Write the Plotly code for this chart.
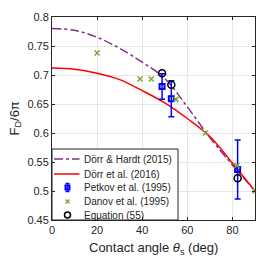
import plotly.graph_objects as go

# ---- data ----
angles = [0, 10, 20, 30, 40, 50, 60, 70, 80, 90]
dorr_hardt = [0.780, 0.777, 0.765, 0.746, 0.722, 0.694, 0.645, 0.592, 0.545, 0.500]
dorr_2016 = [0.712, 0.710, 0.703, 0.692, 0.673, 0.652, 0.625, 0.594, 0.548, 0.500]

petkov_x = [48.8, 52.9, 82.3]
petkov_y = [0.680, 0.659, 0.537]
petkov_err = [0.022, 0.031, 0.051]

danov_x = [20, 39, 44, 55, 68, 82, 90]
danov_y = [0.738, 0.693, 0.693, 0.658, 0.600, 0.544, 0.500]

eq_x = [48.8, 52.9, 82.3]
eq_y = [0.703, 0.683, 0.522]

x_ticks = [0, 20, 40, 60, 80]
y_ticks = [0.45, 0.5, 0.55, 0.6, 0.65, 0.7, 0.75, 0.8]
y_ticktext = ["0.45", "0.5", "0.55", "0.6", "0.65", "0.7", "0.75", "0.8"]

legend_names = ["Dörr & Hardt (2015)", "Dörr et al. (2016)", "Petkov et al. (1995)",
                "Danov et al. (1995)", "Equation (55)"]

PURPLE, RED, BLUE, GREEN, BLACK = "#7E2F8E", "#FF0000", "#0000FF", "#77AC30", "#000000"
TXT = "#262626"
FONT = "Liberation Sans"

fig = go.Figure()
fig.add_trace(go.Scatter(x=angles, y=dorr_hardt, mode="lines", showlegend=False,
                         line=dict(color=PURPLE, dash="dashdot", width=1.5, shape="spline")))
fig.add_trace(go.Scatter(x=angles, y=dorr_2016, mode="lines", showlegend=False,
                         line=dict(color=RED, width=1.5, shape="spline")))
fig.add_trace(go.Scatter(x=petkov_x, y=petkov_y, mode="markers", showlegend=False,
                         marker=dict(symbol="square-open", color=BLUE, size=5, line=dict(width=2)),
                         error_y=dict(type="data", array=petkov_err, color=BLUE, thickness=1.5, width=3)))
fig.add_trace(go.Scatter(x=danov_x, y=danov_y, mode="markers", showlegend=False,
                         marker=dict(symbol="x-thin-open", color=GREEN, size=5, line=dict(width=1.5, color=GREEN))))
fig.add_trace(go.Scatter(x=eq_x, y=eq_y, mode="markers", showlegend=False,
                         marker=dict(symbol="circle-open", color=BLACK, size=7, line=dict(width=1.5))))

# ---- manual legend (in plot-pixel units on hidden overlay axes) ----
PW = 203  # plot width/height in px
box_x = [0, 126, 126, 0, 0]
box_y = [0, 0, 71, 71, 0]
row_y = [61, 46, 32.5, 18.5, 5]
line_x0, line_x1, mark_x, text_x = 2, 27.5, 15.5, 29.5

fig.add_trace(go.Scatter(x=box_x, y=box_y, xaxis="x2", yaxis="y2", mode="lines", fill="toself",
                         fillcolor="white", line=dict(color=TXT, width=1), showlegend=False,
                         hoverinfo="skip"))
fig.add_trace(go.Scatter(x=[line_x0, line_x1], y=[row_y[0]] * 2, xaxis="x2", yaxis="y2", mode="lines",
                         showlegend=False, hoverinfo="skip", line=dict(color=PURPLE, dash="dashdot", width=1.5)))
fig.add_trace(go.Scatter(x=[line_x0, line_x1], y=[row_y[1]] * 2, xaxis="x2", yaxis="y2", mode="lines",
                         showlegend=False, hoverinfo="skip", line=dict(color=RED, width=1.5)))
fig.add_trace(go.Scatter(x=[mark_x], y=[row_y[2]], xaxis="x2", yaxis="y2", mode="markers",
                         showlegend=False, hoverinfo="skip",
                         marker=dict(symbol="square-open", color=BLUE, size=4, line=dict(width=2)),
                         error_y=dict(type="constant", value=4, color=BLUE, thickness=1.5, width=2)))
fig.add_trace(go.Scatter(x=[mark_x], y=[row_y[3]], xaxis="x2", yaxis="y2", mode="markers",
                         showlegend=False, hoverinfo="skip",
                         marker=dict(symbol="x-thin-open", color=GREEN, size=4, line=dict(width=1.5, color=GREEN))))
fig.add_trace(go.Scatter(x=[mark_x], y=[row_y[4]], xaxis="x2", yaxis="y2", mode="markers",
                         showlegend=False, hoverinfo="skip",
                         marker=dict(symbol="circle-open", color=BLACK, size=6, line=dict(width=1.5))))
for name, yy in zip(legend_names, row_y):
    fig.add_annotation(x=text_x, y=yy, xref="x2", yref="y2", text=name, showarrow=False,
                       xanchor="left", yanchor="middle", font=dict(size=10, color=TXT, family=FONT))

axis_common = dict(showline=True, linecolor=TXT, linewidth=1, mirror="ticks", ticks="inside",
                   ticklen=3, tickcolor=TXT, showgrid=True, gridcolor="#E6E6E6", zeroline=False,
                   automargin=False, tickfont=dict(size=11, color=TXT, family=FONT))
fig.update_layout(
    xaxis=dict(range=[0, 90], tickvals=x_ticks, **axis_common),
    yaxis=dict(range=[0.45, 0.8], tickvals=y_ticks, ticktext=y_ticktext, **axis_common),
    xaxis2=dict(range=[0, PW], overlaying="x", visible=False, fixedrange=True),
    yaxis2=dict(range=[0, PW], overlaying="y", visible=False, fixedrange=True),
)
fig.add_annotation(x=0.5, y=-28 / PW, xref="paper", yref="paper", showarrow=False,
                   text="Contact angle <i>θ</i><sub>s</sub> (deg)", xanchor="center", yanchor="middle",
                   font=dict(size=13, color=TXT, family=FONT))
fig.add_annotation(x=-37 / PW, y=0.5, xref="paper", yref="paper", showarrow=False, textangle=-90,
                   text="F<sub>D</sub>/6π", xanchor="center", yanchor="middle",
                   font=dict(size=13, color=TXT, family=FONT))

fig.update_layout(width=263, height=263, margin=dict(l=44, r=16, t=9, b=51),
                  plot_bgcolor="white", paper_bgcolor="white", showlegend=False)
fig.write_html("out.html")
